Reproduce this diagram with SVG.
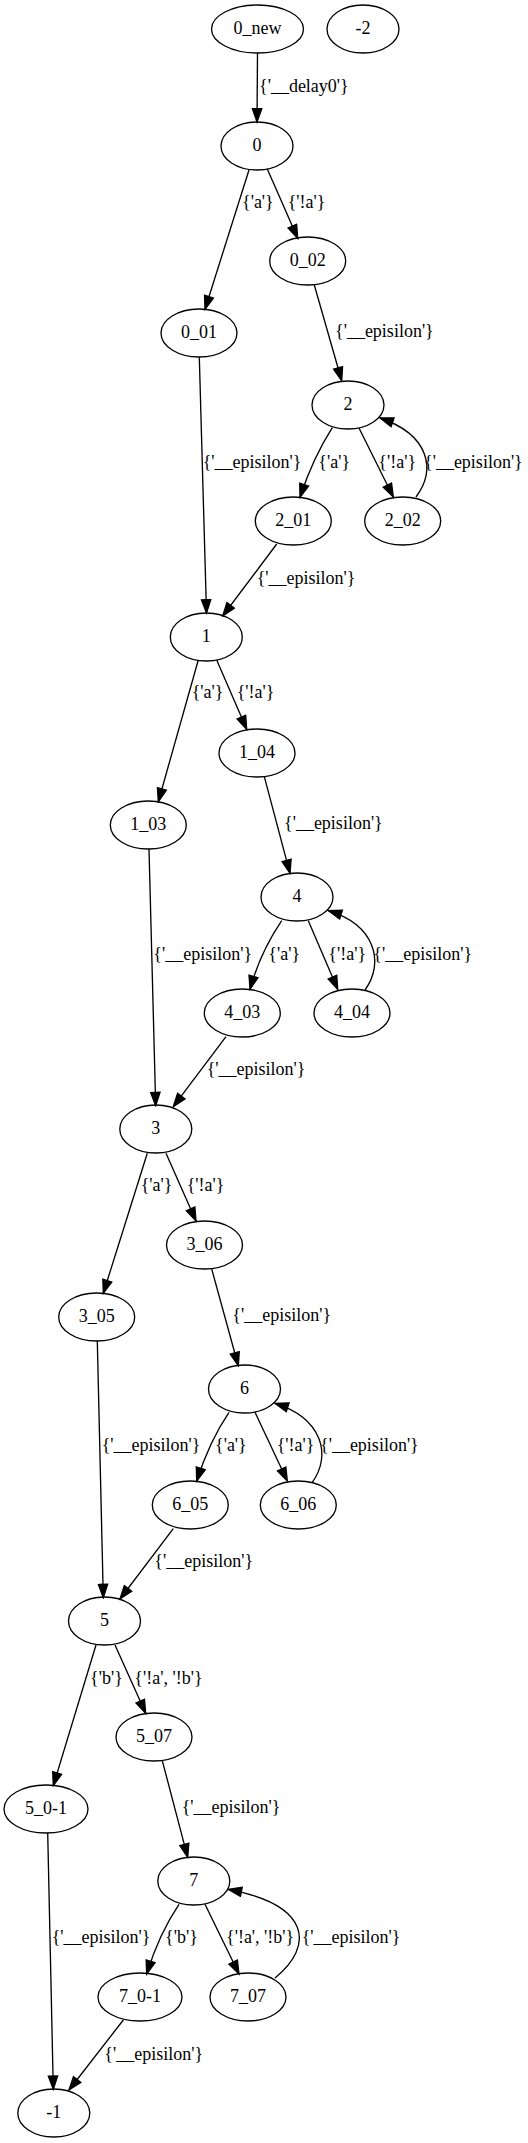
<svg xmlns="http://www.w3.org/2000/svg" width="528" height="2143" viewBox="0 0 528 2143">
<style>
.n ellipse{fill:none;stroke:#000;stroke-width:1.33}
.n text{font-family:"Liberation Serif","Times New Roman",serif;font-size:18px;text-anchor:middle;fill:#000}
.e path{fill:none;stroke:#000;stroke-width:1.33;marker-end:url(#ah)}
.e text{font-family:"Liberation Serif","Times New Roman",serif;font-size:18px;fill:#000}
</style>
<defs>
<marker id="ah" markerUnits="userSpaceOnUse" markerWidth="16" markerHeight="12" refX="13.3" refY="4.67" orient="auto" viewBox="-1 -1 16 12">
<path d="M0,0 L13.3,4.67 L0,9.33 z" fill="#000" stroke="#000" stroke-width="1.33"/>
</marker>
</defs>
<rect width="528" height="2143" fill="#fff"/>
<g id="edges" class="e">
<path d="M257.5,53 L257,122"/><text x="259" y="92">{'__delay0'}</text>
<path d="M249.3,169 L205,309.3"/><text x="242" y="208">{'a'}</text>
<path d="M267.3,169 L297.7,238.3"/><text x="287.7" y="208">{'!a'}</text>
<path d="M314.3,285 L341.7,380.7"/><text x="335" y="337">{'__episilon'}</text>
<path d="M199.3,357 L206.5,613"/><text x="202.7" y="467.5">{'__episilon'}</text>
<path d="M332.3,427.7 C320,447 309,470 300,497.3"/><text x="318.3" y="467.5">{'a'}</text>
<path d="M359,428 L393.3,497"/><text x="378.3" y="467.5">{'!a'}</text>
<path d="M416,497 C436,470 430,435 380,418"/><text x="424" y="467.5">{'__episilon'}</text>
<path d="M276.7,544 L222.7,616"/><text x="256.7" y="584">{'__episilon'}</text>
<path d="M198.3,660 L158.3,801.7"/><text x="191.7" y="698">{'a'}</text>
<path d="M216.7,660 L246.7,729.3"/><text x="236.7" y="698">{'!a'}</text>
<path d="M264.3,776.7 L290,873.3"/><text x="284" y="828.5">{'__episilon'}</text>
<path d="M149,849 L155.7,1105.7"/><text x="153.3" y="959.5">{'__episilon'}</text>
<path d="M281.7,920.7 C270,938 258,960 250,989.3"/><text x="268.3" y="959.5">{'a'}</text>
<path d="M308.3,920.7 L337.7,989.3"/><text x="328.3" y="959.5">{'!a'}</text>
<path d="M365,990 C385,962 375,925 328.3,910.7"/><text x="373.3" y="959.5">{'__episilon'}</text>
<path d="M226,1036.7 L173.3,1106.7"/><text x="206.7" y="1075">{'__episilon'}</text>
<path d="M147.3,1153.3 L103.3,1293.3"/><text x="140.7" y="1191">{'a'}</text>
<path d="M166,1153.3 L196,1221"/><text x="186.7" y="1191">{'!a'}</text>
<path d="M211.7,1269 L238.3,1365.7"/><text x="232.3" y="1321">{'__episilon'}</text>
<path d="M97.3,1340.7 L103.3,1597.7"/><text x="101.7" y="1451">{'__episilon'}</text>
<path d="M229,1412.3 C217,1430 205,1455 196.7,1481"/><text x="215" y="1451">{'a'}</text>
<path d="M255,1412.3 L287.3,1481"/><text x="276.7" y="1451">{'!a'}</text>
<path d="M312.3,1482.3 C332,1455 322,1418 275,1403.3"/><text x="320" y="1451">{'__episilon'}</text>
<path d="M173.3,1528.7 L120,1599"/><text x="154.3" y="1567">{'__episilon'}</text>
<path d="M96,1645 L53.3,1785.7"/><text x="90" y="1683.5">{'b'}</text>
<path d="M115,1645 L145.7,1713.3"/><text x="134.3" y="1683.5">{'!a', '!b'}</text>
<path d="M162.3,1760.7 L187.7,1857.3"/><text x="181.7" y="1813">{'__episilon'}</text>
<path d="M47.7,1832.7 L53.3,2089.3"/><text x="51.7" y="1943">{'__episilon'}</text>
<path d="M179,1904.3 C167,1922 155,1947 146.7,1974"/><text x="165" y="1943">{'b'}</text>
<path d="M205,1904.3 L239,1974"/><text x="226" y="1943">{'!a', '!b'}</text>
<path d="M275,1978 C315,1945 310,1905 228.3,1889.3"/><text x="301.7" y="1943">{'__episilon'}</text>
<path d="M123.3,2020 L69,2090"/><text x="104.3" y="2059.5">{'__episilon'}</text>
</g>
<g id="n_0_new" class="n"><ellipse cx="257.5" cy="29" rx="46" ry="24"/><text x="257.5" y="34">0_new</text></g>
<g id="n_m2" class="n"><ellipse cx="363" cy="29" rx="36" ry="24"/><text x="363" y="34">-2</text></g>
<g id="n_0" class="n"><ellipse cx="257" cy="146" rx="36" ry="24"/><text x="257" y="151">0</text></g>
<g id="n_0_02" class="n"><ellipse cx="307.7" cy="261" rx="38" ry="24"/><text x="307.7" y="266">0_02</text></g>
<g id="n_0_01" class="n"><ellipse cx="199" cy="333" rx="38" ry="24"/><text x="199" y="338">0_01</text></g>
<g id="n_2" class="n"><ellipse cx="348" cy="405" rx="36" ry="24"/><text x="348" y="410">2</text></g>
<g id="n_2_01" class="n"><ellipse cx="293.3" cy="521" rx="38" ry="24"/><text x="293.3" y="526">2_01</text></g>
<g id="n_2_02" class="n"><ellipse cx="402.7" cy="521" rx="38" ry="24"/><text x="402.7" y="526">2_02</text></g>
<g id="n_1" class="n"><ellipse cx="206.3" cy="637" rx="36" ry="24"/><text x="206.3" y="642">1</text></g>
<g id="n_1_04" class="n"><ellipse cx="257" cy="753" rx="38" ry="24"/><text x="257" y="758">1_04</text></g>
<g id="n_1_03" class="n"><ellipse cx="148.3" cy="825" rx="38" ry="24"/><text x="148.3" y="830">1_03</text></g>
<g id="n_4" class="n"><ellipse cx="297" cy="897" rx="36" ry="24"/><text x="297" y="902">4</text></g>
<g id="n_4_03" class="n"><ellipse cx="242.3" cy="1013" rx="38" ry="24"/><text x="242.3" y="1018">4_03</text></g>
<g id="n_4_04" class="n"><ellipse cx="352" cy="1013" rx="38" ry="24"/><text x="352" y="1018">4_04</text></g>
<g id="n_3" class="n"><ellipse cx="155.8" cy="1129" rx="36" ry="24"/><text x="155.8" y="1134">3</text></g>
<g id="n_3_06" class="n"><ellipse cx="204.5" cy="1245" rx="38" ry="24"/><text x="204.5" y="1250">3_06</text></g>
<g id="n_3_05" class="n"><ellipse cx="96.7" cy="1317" rx="38" ry="24"/><text x="96.7" y="1322">3_05</text></g>
<g id="n_6" class="n"><ellipse cx="244.5" cy="1389" rx="36" ry="24"/><text x="244.5" y="1394">6</text></g>
<g id="n_6_05" class="n"><ellipse cx="190.3" cy="1505" rx="38" ry="24"/><text x="190.3" y="1510">6_05</text></g>
<g id="n_6_06" class="n"><ellipse cx="298.3" cy="1505" rx="38" ry="24"/><text x="298.3" y="1510">6_06</text></g>
<g id="n_5" class="n"><ellipse cx="104.5" cy="1621" rx="36" ry="24"/><text x="104.5" y="1626">5</text></g>
<g id="n_5_07" class="n"><ellipse cx="154" cy="1737" rx="38" ry="24"/><text x="154" y="1742">5_07</text></g>
<g id="n_5_0m1" class="n"><ellipse cx="46" cy="1809" rx="42" ry="24"/><text x="46" y="1814">5_0-1</text></g>
<g id="n_7" class="n"><ellipse cx="193.8" cy="1881" rx="36" ry="24"/><text x="193.8" y="1886">7</text></g>
<g id="n_7_0m1" class="n"><ellipse cx="140" cy="1997" rx="42" ry="24"/><text x="140" y="2002">7_0-1</text></g>
<g id="n_7_07" class="n"><ellipse cx="248" cy="1997" rx="38" ry="24"/><text x="248" y="2002">7_07</text></g>
<g id="n_m1" class="n"><ellipse cx="53.8" cy="2113" rx="36" ry="24"/><text x="53.8" y="2118">-1</text></g>
</svg>
